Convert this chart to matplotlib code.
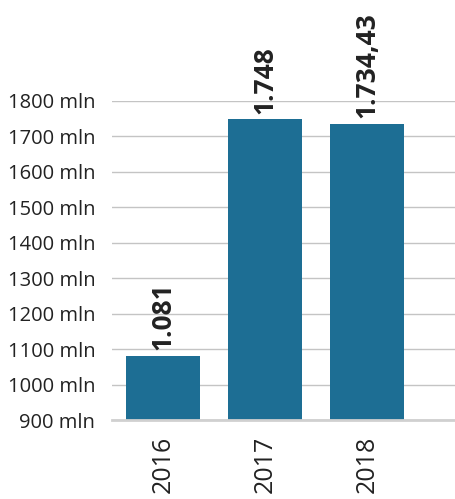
import matplotlib
matplotlib.use("Agg")
import matplotlib.pyplot as plt

years = ["2016", "2017", "2018"]
values = [1081, 1748, 1734.43]
value_labels = ["1.081", "1.748", "1.734,43"]
y_ticks = [900, 1000, 1100, 1200, 1300, 1400, 1500, 1600, 1700, 1800]
y_tick_labels = [f"{t} mln" for t in y_ticks]

BAR_COLOR = "#1d6e94"
TEXT_COLOR = "#222222"
GRID_COLOR = "#c4c4c4"

plt.rcParams["font.family"] = ["Open Sans", "DejaVu Sans"]

fig = plt.figure(figsize=(4.55, 4.99), dpi=100)
ax = fig.add_axes([0.246, 0.1583, 0.754, 0.6399])

x = list(range(len(years)))
ax.bar(x, [v - 900 for v in values], bottom=900, width=0.725,
       color=BAR_COLOR, zorder=2)

ax.set_ylim(900, 1800)
ax.set_xlim(-0.5, 2.86)
ax.set_yticks(y_ticks)
ax.set_yticklabels(y_tick_labels, fontsize=14.5, color=TEXT_COLOR)
ax.set_xticks(x)
ax.set_xticklabels(years, rotation=90, fontsize=18, color=TEXT_COLOR)
ax.tick_params(axis="y", length=0, pad=12)
ax.tick_params(axis="x", length=0, pad=11)

ax.yaxis.grid(True, color=GRID_COLOR, linewidth=1.0, zorder=0)
ax.set_axisbelow(True)
for side in ("left", "right", "top"):
    ax.spines[side].set_visible(False)
ax.spines["bottom"].set_color("#d0d0d0")
ax.spines["bottom"].set_linewidth(2)
ax.spines["bottom"].set_zorder(3)

for xi, v, lab in zip(x, values, value_labels):
    ax.annotate(lab, xy=(xi, v), xytext=(0, 4), textcoords="offset points",
                rotation=90, ha="center", va="bottom", fontsize=19,
                fontweight="bold", color=TEXT_COLOR, annotation_clip=False)

fig.savefig("out.png", dpi=100)
